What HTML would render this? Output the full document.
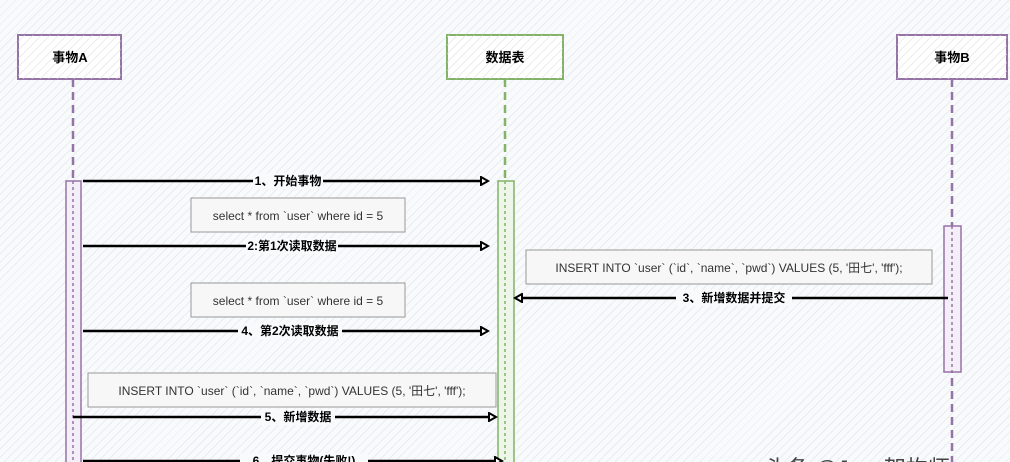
<!DOCTYPE html>
<html><head><meta charset="utf-8"><style>
html,body{margin:0;padding:0;width:1010px;height:462px;overflow:hidden;}
body{background:#f7f9fb repeating-linear-gradient(135deg,#f8fafc 0,#f8fafc 5px,#e9edf1 5px,#e9edf1 6px);}
svg{position:absolute;left:0;top:0;}
text{font-family:"Liberation Sans","Noto Sans CJK SC",sans-serif;}
</style></head><body>
<svg width="1010" height="462" viewBox="0 0 1010 462">
<defs>
<pattern id="h" width="6" height="6" patternUnits="userSpaceOnUse" patternTransform="rotate(45)">
<line x1="0" y1="0" x2="0" y2="6" stroke="#d8d8d8" stroke-width="1"/></pattern>
<marker id="a" markerWidth="10" markerHeight="10" refX="8" refY="5" orient="auto" markerUnits="userSpaceOnUse">
<path d="M1,1 L8,5 L1,9 Z" fill="#fff" stroke="#000" stroke-width="2"/></marker>
</defs>
<rect x="18" y="35" width="103" height="44" fill="#fff" stroke="#9673a6" stroke-width="2"/>
<rect x="18" y="35" width="103" height="44" fill="url(#h)"/>
<text x="70" y="62" font-size="13" font-weight="bold" text-anchor="middle">事物A</text>
<rect x="447" y="35" width="116" height="44" fill="#fff" stroke="#82b366" stroke-width="2"/>
<rect x="447" y="35" width="116" height="44" fill="url(#h)"/>
<text x="505" y="62" font-size="13" font-weight="bold" text-anchor="middle">数据表</text>
<rect x="897" y="35" width="110" height="44" fill="#fff" stroke="#9673a6" stroke-width="2"/>
<rect x="897" y="35" width="110" height="44" fill="url(#h)"/>
<text x="952" y="62" font-size="13" font-weight="bold" text-anchor="middle">事物B</text>
<line x1="73" y1="79" x2="73" y2="462" stroke="#9673a6" stroke-width="2.5" stroke-dasharray="8,5"/>
<line x1="505" y1="79" x2="505" y2="462" stroke="#82b366" stroke-width="2.5" stroke-dasharray="8,5"/>
<line x1="952" y1="79" x2="952" y2="462" stroke="#9673a6" stroke-width="2.5" stroke-dasharray="8,5"/>
<rect x="66" y="181" width="15" height="290" fill="#f3eef7" stroke="#9673a6" stroke-width="1.5"/>
<line x1="73" y1="181" x2="73" y2="462" stroke="#9673a6" stroke-width="1.5" stroke-dasharray="3,3"/>
<rect x="498" y="181" width="16" height="290" fill="#eef6ea" stroke="#82b366" stroke-width="1.5"/>
<line x1="505" y1="181" x2="505" y2="462" stroke="#82b366" stroke-width="1.5" stroke-dasharray="3,3"/>
<rect x="944" y="226" width="17" height="146" fill="#f3eef7" stroke="#9673a6" stroke-width="1.5"/>
<line x1="952" y1="226" x2="952" y2="372" stroke="#9673a6" stroke-width="1.5" stroke-dasharray="3,3"/>
<g font-size="12" text-anchor="middle" fill="#333">
<rect x="191" y="198" width="214" height="34" fill="#f7f7f7" stroke="#999"/>
<text x="298" y="220">select *  from `user` where id = 5</text>
<rect x="526" y="250" width="406" height="34" fill="#f7f7f7" stroke="#999"/>
<text x="729" y="272">INSERT INTO `user` (`id`, `name`, `pwd`) VALUES (5, '田七', 'fff');</text>
<rect x="191" y="283" width="214" height="34" fill="#f7f7f7" stroke="#999"/>
<text x="298" y="305">select *  from `user` where id = 5</text>
<rect x="88" y="373" width="408" height="34" fill="#f7f7f7" stroke="#999"/>
<text x="292" y="395">INSERT INTO `user` (`id`, `name`, `pwd`) VALUES (5, '田七', 'fff');</text>
</g>
<g stroke="#000" stroke-width="2.5" fill="none">
<line x1="83" y1="181" x2="488" y2="181" marker-end="url(#a)"/>
<line x1="83" y1="246" x2="488" y2="246" marker-end="url(#a)"/>
<line x1="948" y1="298" x2="515" y2="298" marker-end="url(#a)"/>
<line x1="83" y1="331" x2="488" y2="331" marker-end="url(#a)"/>
<line x1="73" y1="417" x2="496" y2="417" marker-end="url(#a)"/>
<line x1="83" y1="461" x2="502" y2="461" marker-end="url(#a)"/>
</g>
<g font-size="12" font-weight="bold" text-anchor="middle">
<rect x="253" y="173" width="70" height="16" fill="#f8fafc"/><text x="288" y="185">1、开始事物</text>
<rect x="246" y="238" width="92" height="16" fill="#f8fafc"/><text x="292" y="250">2:第1次读取数据</text>
<rect x="676" y="290" width="116" height="16" fill="#f8fafc"/><text x="734" y="302">3、新增数据并提交</text>
<rect x="238" y="323" width="104" height="16" fill="#f8fafc"/><text x="290" y="335">4、第2次读取数据</text>
<rect x="261" y="409" width="74" height="16" fill="#f8fafc"/><text x="298" y="421">5、新增数据</text>
<rect x="240" y="453" width="128" height="16" fill="#f8fafc"/><text x="304" y="465">6、提交事物(失败!)</text>
</g>
<text x="765" y="476" font-size="22" fill="#444">头条 @Java架构师</text>
</svg>
</body></html>
